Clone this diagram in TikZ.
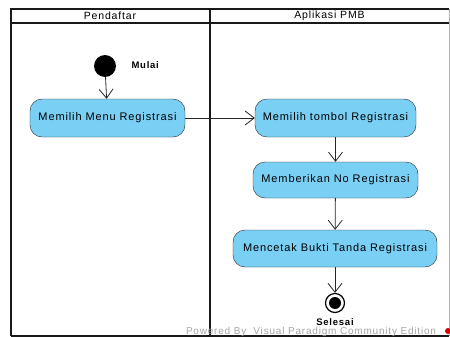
\documentclass[tikz,border=0pt]{standalone}
\usepackage{fontspec}
\setmainfont{Liberation Sans}
\newfontfamily\vpfont[LetterSpace=8]{Liberation Sans}
\usetikzlibrary{arrows.meta}
\definecolor{actfill}{RGB}{122,207,245}

\begin{document}
\begin{tikzpicture}[x=1pt,y=-1pt,>={Straight Barb[length=9pt,width=14pt]}]
		\tikzstyle{action}=[draw=black!85,fill=actfill,rounded corners=12pt,minimum height=38pt,inner sep=0pt,font=\vpfont\fontsize{11}{13}\selectfont];
		\tikzstyle{lanetext}=[font=\vpfont\fontsize{10.5}{12}\selectfont];
		\tikzstyle{flow}=[->,draw=black!85,line width=0.8pt];
		\useasboundingbox (0,0) rectangle (450,337);
		\clip (0,0) rectangle (450,337);
		% swimlanes
		\draw[gray!60] (449,9) -- (449,336);
		\draw[line width=1.8pt,black!90] (11,336) -- (11,9) -- (449,9);
		\draw[line width=1.8pt,black!90] (11,23) -- (449,23);
		\draw[line width=1.5pt,black!90] (11,336) -- (449,336);
		\draw[line width=2.5pt,black!90] (210,9) -- (210,336);
		\node[lanetext] (pendaftar) at (110,16) {Pendaftar};
		\node[lanetext] (aplikasi) at (329.5,16) {Aplikasi PMB};
		% nodes
		\node[circle,fill=black,minimum size=22pt,inner sep=0pt] (mulai) at (105,66) {};
		\node[anchor=west,font=\vpfont\bfseries\fontsize{9.5}{11}\selectfont] (mulaitext) at (128,65) {Mulai};
		\node[action,minimum width=155pt] (menu) at (107.5,118) {Memilih Menu Registrasi};
		\node[action,minimum width=161pt] (tombol) at (335.5,118) {Memilih tombol Registrasi};
		\node[action,minimum width=165pt,minimum height=36pt] (nomor) at (335.5,180) {Memberikan No Registrasi};
		\node[action,minimum width=204pt,minimum height=37pt] (cetak) at (335,248.5) {Mencetak Bukti Tanda Registrasi};
		\node[circle,draw=black,line width=1.2pt,minimum size=19pt,inner sep=0pt] (selesai) at (335,303) {};
		\node[circle,fill=black,minimum size=12pt,inner sep=0pt] (selesaidot) at (selesai) {};
		\node[font=\vpfont\bfseries\fontsize{9.5}{11}\selectfont] (selesaitext) at (335,322) {Selesai};
		% flows
		\draw[flow] (mulai) -- (menu);
		\draw[flow] (menu) -- (tombol);
		\draw[flow] (tombol) -- (nomor);
		\draw[flow] (nomor) -- (cetak);
		\draw[flow] (cetak) -- (selesai);
		% watermark
		\node[anchor=base,text=gray!70,font=\vpfont\fontsize{10}{12}\selectfont] (powered) at (311,334) {Powered By\ \ Visual Paradigm Community Edition};
		\fill[red!85!black] (448,331) circle (3pt);
\end{tikzpicture}
\end{document}
